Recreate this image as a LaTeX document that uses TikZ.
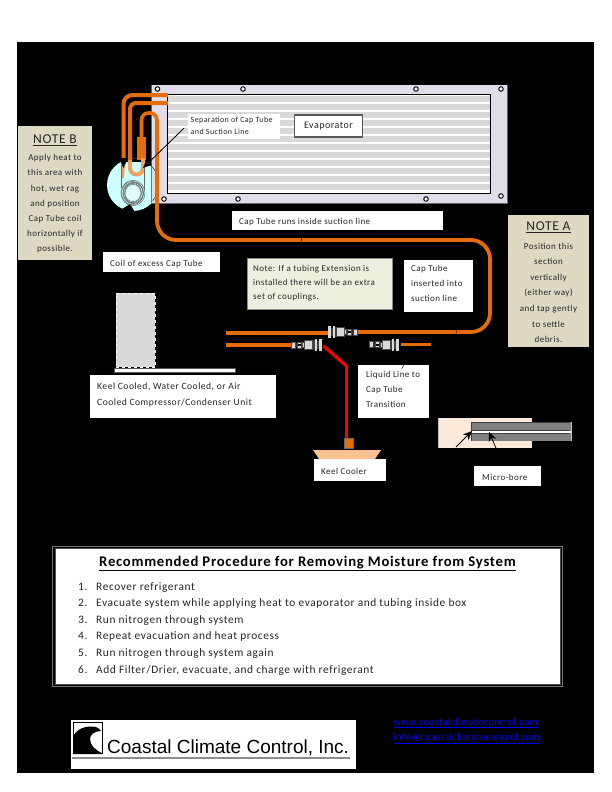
\documentclass[tikz,border=0pt]{standalone}
\usepackage{fontspec}
\setmainfont[LetterSpace=5]{Carlito}
\newfontfamily\logofont{Liberation Sans}
\usetikzlibrary{arrows.meta}
\definecolor{orangepipe}{HTML}{E46C0A}
\definecolor{lightpipe}{HTML}{EDA25F}
\definecolor{lav}{HTML}{E0DCE8}
\definecolor{tan}{HTML}{DDD9C3}
\definecolor{pgreen}{HTML}{EBF1DE}
\definecolor{peach}{HTML}{FDE9D9}
\definecolor{trap}{HTML}{FAC090}
\definecolor{cyanlight}{HTML}{CCFFFF}
\definecolor{stripe}{HTML}{D9D9D9}
\tikzset{
 lbl/.style={fill=white,inner sep=0pt,anchor=north west,font=\fontsize{9}{14.8}\selectfont,text=black!85},
 txt/.style={inner sep=0pt,anchor=base west,text=black!85,align=left},
 notebox/.style={fill=tan,inner sep=0pt,anchor=north,align=center,font=\fontsize{9}{15.5}\selectfont,text=black!85},
 pipe/.style={draw=orangepipe,line width=4pt},
 thinpipe/.style={draw=orangepipe,line width=2.5pt},
 blk/.style={draw=black,line width=.8pt,-{Stealth[length=9pt,width=8pt]}},
 hole/.style={circle,draw=black,fill=white,line width=1pt,minimum size=4.5pt,inner sep=0pt},
 coupl/.style={fill=stripe,draw=black!70,line width=.4pt},
 link/.style={text=blue,font=\fontsize{10}{12}\selectfont,inner sep=0pt,anchor=west},
 itemtxt/.style={inner sep=0pt,anchor=base west,font=\fontsize{11.4}{13}\selectfont,text=black!85},
}
\newcommand{\cplg}[3]{%
 \begin{scope}[shift={(#1,#2)},xscale=#3]
  \fill[coupl] (0,-3) rectangle (4,3);
  \fill[black!80] (4,-2) rectangle (6,2);
  \fill[coupl] (6,-3) rectangle (10,3);
  \fill[black!80] (10,-2) rectangle (11,2);
  \fill[coupl] (11,-2.5) rectangle (13,2.5);
  \fill[coupl] (13,-4.5) rectangle (21,4.5);
  \fill[black!75] (21,-5) rectangle (23,5);
  \fill[stripe] (23,-6) rectangle (25,6);
  \fill[black!75] (25,-4) rectangle (27,4);
  \fill[stripe] (27,-6) rectangle (30,6);
  \fill[black] (6.5,-1) rectangle (9.5,1);
 \end{scope}}
\begin{document}
\begin{tikzpicture}[x=1pt,y=-1pt]
\useasboundingbox (0,0) rectangle (612,792);
\fill[white] (0,0) rectangle (612,792);
\fill[black] (17,42) rectangle (594,773);
% evaporator
\fill[lav] (151,85) rectangle (507,203);
\draw[black!60,line width=.8pt] (507,85) -- (507,203) -- (151,203) -- (151,85);
\fill[white] (167.5,94.5) rectangle (490.5,193);
\foreach \y in {96,104,...,184} \fill[stripe] (168,\y) rectangle (490,\y+6);
\draw[black,line width=.9pt] (167.5,94.5) rectangle (490.5,193);
\foreach \p/\q [count=\i] in {157.5/89,243/89,416/89,501/89,164/199,238/199,426/199,501/196}
  \node[hole] (hole\i) at (\p,\q) {};
\node[draw=black!65,line width=1.1pt,fill=white,inner sep=0pt,minimum width=68pt,minimum height=22pt,font=\fontsize{10}{12}\selectfont,text=black!85] (evap) at (328.5,126) {Evaporator};
% cyan region
\begin{scope}
 \clip (100,162) rectangle (151,220);
 \fill[cyanlight] (133,185) circle[radius=26pt];
\end{scope}
\fill[black] (122,209) -- (130,204) -- (136,214) -- (122,214) -- cycle;
% thin circle outline
\draw[black!75,line width=.6pt] (119,162) arc[start angle=122,end angle=-40,radius=26pt];
% U tube
\fill[orangepipe] (137,137) rectangle (146,160);
\draw[lightpipe,line width=4pt] (130,158) -- (130,168) arc[start angle=180,end angle=360,radius=6.5pt] -- (143,158);
\fill[lightpipe] (120.5,158) -- (125.5,158) -- (124,178) -- (122,178) -- cycle;
% suction lines
\coordinate (suctionA) at (168,95);
\coordinate (suctionB) at (168,103);
\draw[pipe,rounded corners=9pt] (suctionA) -- (123.5,95) -- (123.5,162);
\draw[pipe,rounded corners=6pt] (suctionB) -- (130,103) -- (130,160);
% main cap-tube run
\coordinate (ctstart) at (141.5,140);
\coordinate (ctend) at (358,332);
\draw[pipe,line width=3.6pt,rounded corners=7pt] (ctstart) -- (141.5,113) -- (157,113) -- (157,170);
\draw[pipe,line width=3.8pt,rounded corners=19pt] (157,170) -- (157,240) -- (490,240) -- (490,332) -- (ctend);
% arrowheads over coil
\fill[black] (119,158) -- (128,158) -- (123.5,168) -- cycle;
% coil
\fill[cyanlight!60!white] (133,193) circle[radius=7pt];
\draw[black!60,line width=.6pt] (121.5,165) -- (121.5,188);
\draw[black!60,line width=.6pt] (144,168) -- (144,190);
\foreach \r/\dx [count=\i] in {8/0,9/-.5,10/0,11/-.5,12/0,9.5/1}
  \draw[black!60,line width=.5pt] (133+\dx,193) ellipse[x radius=\r pt,y radius=\r pt+.7pt];
% separation
\node[fill=white,anchor=north west,inner sep=0pt,minimum width=92pt,minimum height=25pt] (sepbg) at (188,113.5) {};
\node[txt,font=\fontsize{8}{12}\selectfont] (sep) at (190.5,134) {Separation of Cap Tube\\and Suction Line};
\coordinate (septo) at (143,168);
\draw[blk] (sepbg.west) ++(-4,2) -- (septo);
% labels
\node[lbl,minimum width=117pt,minimum height=20pt] (coil) at (103,252) {};
\node[txt,font=\fontsize{9}{11}\selectfont] (coilt) at (110,266) {Coil of excess Cap Tube};
\node[lbl,minimum width=211pt,minimum height=19pt] (runs) at (232,211) {};
\node[txt,font=\fontsize{9}{11}\selectfont] (runst) at (239,224) {Cap Tube runs inside suction line};
\node[fill=pgreen,draw=black!45,line width=.5pt,anchor=north west,inner sep=0pt,minimum width=145pt,minimum height=51pt] (note) at (247,258) {};
\node[txt,font=\fontsize{9}{14}\selectfont] (notet) at (253,299) {Note: If a tubing Extension is\\installed there will be an extra\\set of couplings.};
\node[lbl,minimum width=69pt,minimum height=52pt] (ins) at (404,260) {};
\node[txt,font=\fontsize{9}{14.6}\selectfont] (inst) at (411,301) {Cap Tube\\inserted into\\suction line};
\node[notebox,minimum width=74pt,minimum height=134pt] (noteB) at (55,126) {};
\node[notebox,anchor=north,font=\fontsize{9}{15.2}\selectfont] (noteBt) at (55,134.5) {{\fontsize{13.5}{16}\selectfont\underline{NOTE B}}\\[2pt]Apply heat to\\this area with\\hot, wet rag\\and position\\Cap Tube coil\\horizontally if\\possible.};
\node[notebox,minimum width=81pt,minimum height=132pt] (noteA) at (548.5,215) {};
\node[notebox,anchor=north,font=\fontsize{9}{15.6}\selectfont] (noteAt) at (548.5,221.5) {{\fontsize{13.5}{16}\selectfont\underline{NOTE A}}\\[3pt]Position this\\section\\vertically\\(either way)\\and tap gently\\to settle\\debris.};
\node[lbl,minimum width=186pt,minimum height=43pt] (unit) at (90,375) {};
\node[txt,font=\fontsize{9.6}{15.5}\selectfont] (unitt) at (97,405) {Keel Cooled, Water Cooled, or Air\\Cooled Compressor/Condenser Unit};
\node[lbl,minimum width=71pt,minimum height=53pt] (liq) at (358,365) {};
\node[txt,font=\fontsize{9}{15}\selectfont] (liqt) at (366,407) {Liquid Line to\\Cap Tube\\Transition};
\node[lbl,minimum width=72pt,minimum height=22pt] (keel) at (314,459) {};
\node[txt,font=\fontsize{9}{11}\selectfont] (keelt) at (321,474) {Keel Cooler};
\node[lbl,minimum width=67pt,minimum height=20pt] (micro) at (474,466) {};
\node[txt,font=\fontsize{9}{11}\selectfont] (microt) at (482,480) {Micro-bore};
% short leader ticks
\coordinate (runsto) at (301,241);
\draw[black,line width=.5pt] (301,230) -- (runsto);
\coordinate (insto) at (457,333);
\draw[black,line width=.5pt] (ins.south east) ++(-25,0) -- (insto);
\coordinate (liqto) at (413,346);
\draw[black,line width=.5pt] (liq.north) ++(8,4) -- (liqto);
% compressor
\node[fill=stripe,draw=white,dashed,line width=.5pt,minimum width=39.5pt,minimum height=74pt,inner sep=0pt,anchor=north west] (comp) at (115.5,293) {};
\fill[white,draw=black!65,line width=.8pt] (114,368.5) rectangle (235,372.5);
% pipes at couplings
\coordinate (sl1) at (226,333);
\coordinate (sl2) at (226,345);
\coordinate (c1) at (328,333);
\coordinate (c2) at (292,345);
\coordinate (tp1) at (401,344.5);
\coordinate (tp2) at (431,344.5);
\draw[pipe] (sl1) -- (c1);
\draw[pipe] (sl2) -- (c2);
\draw[thinpipe] (tp1) -- (tp2);
\cplg{357.5}{332}{-1}
\cplg{291.5}{345}{1}
\cplg{369}{344.5}{1}
% red line
\coordinate (r1) at (323.5,346);
\coordinate (r2) at (346.5,366);
\draw[red,line width=3pt] (r1) -- (r2);
\node[fill=orangepipe,draw=black!60,line width=.3pt,minimum width=9.5pt,minimum height=10pt,inner sep=0pt] (pump) at (348.5,443) {};
\draw[red,line width=2.6pt] (r2) -- (346.5,438);
\fill[trap] (313,450) -- (381,450) -- (375,459) -- (319,459) -- cycle;
% micro-bore
\fill[peach] (438.5,418) rectangle (532,448);
\draw[black!25,line width=.7pt] (438.5,418) -- (438.5,448);
\fill[black!50] (471.5,422) rectangle (571,441);
\fill[white] (471.5,431) rectangle (571,433);
\draw[black!75,line width=.7pt] (471.5,422.5) -- (570,422.5);
\draw[black!75,line width=.7pt] (471.5,422) -- (471.5,441);
\draw[black!75,line width=.7pt] (471.5,430.5) -- (570,430.5);
\draw[black!75,line width=.7pt] (471.5,433.5) -- (570,433.5);
\draw[black!25,line width=1pt] (571,422) -- (571,441);
\coordinate (a1) at (456,447);
\coordinate (a2) at (472,431);
\coordinate (a4) at (489,432);
\draw[blk] (a1) -- (a2);
\draw[blk] (micro.north) ++(-4,0) -- (a4);
% procedure
\draw[black!55,line width=.8pt] (52.5,546) rectangle (562,686.5);
\node[fill=white,draw=black!70,line width=.5pt,minimum width=505pt,minimum height=136pt,inner sep=0pt,anchor=north west] (proc) at (55,548) {};
\node[inner sep=0pt,anchor=base,font=\bfseries\fontsize{14.7}{16}\selectfont] (ptitle) at (307.5,566) {\underline{Recommended Procedure for Removing Moisture from System}};
\foreach \y/\t [count=\n] in {590/Recover refrigerant,
  606.6/Evacuate system while applying heat to evaporator and tubing inside box,
  623.2/Run nitrogen through system,
  639.8/Repeat evacuation and heat process,
  656.4/Run nitrogen through system again,
  673/{Add Filter/Drier, evacuate, and charge with refrigerant}}
{
  \node[itemtxt] (num\n) at (78,\y) {\n.};
  \node[itemtxt] (item\n) at (96,\y) {\t};
}
% logo
\node[fill=white,minimum width=285pt,minimum height=49pt,inner sep=0pt,anchor=north west] (logo) at (71,720) {};
\draw[black,line width=1pt] (73,722.5) rectangle (102.5,753.5);
\fill[black] (73,754) -- (73,737) .. controls (76,729) and (86,725) .. (96,727) .. controls (98,728) and (100,729) .. (101,731) .. controls (94,731) and (90,735) .. (90,739) .. controls (90,745) and (95,750) .. (102,753) -- (102,754) -- cycle;
\node[inner sep=0pt,anchor=base west,font=\logofont\fontsize{19}{20}\selectfont] (logot) at (107,753) {Coastal Climate Control, Inc.};
\fill[black!45] (72,757) rectangle (350,758.8);
\node[link] (web) at (393.5,723) {\underline{www.coastalclimatecontrol.com}};
\node[link] (mail) at (393.5,739) {\underline{info@coastalclimatecontrol.com}};
\end{tikzpicture}
\end{document}
